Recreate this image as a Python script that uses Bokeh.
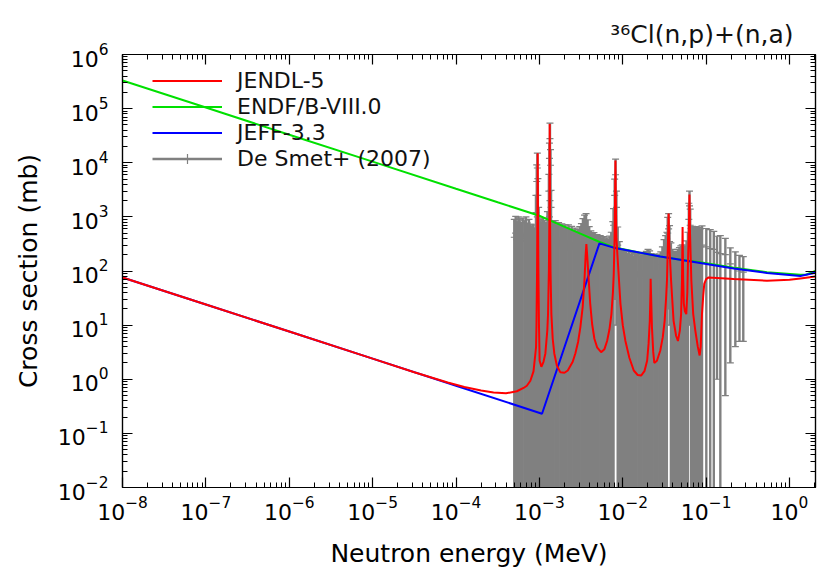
import numpy as np
from bokeh.plotting import figure
from bokeh.models import (LogAxis, FixedTicker, Legend, LegendItem,
                          ColumnDataSource, Range1d, CustomJSTickFormatter)
from bokeh.embed import file_html
from bokeh.resources import INLINE

# ---------------- evaluated cross sections (energy in MeV, sigma in mb) -------------
jendl_e = [1e-8, 1e-7, 1e-6, 1e-5, 3.16e-5, 7.94e-5, 1.26e-4, 2.0e-4, 2.82e-4, 3.98e-4,
           5.37e-4, 6.46e-4, 7.08e-4, 7.8e-4, 8.5e-4, 9.12e-4, 9.23e-4, 9.38e-4, 9.48e-4,
           9.55e-4, 9.62e-4, 9.73e-4, 9.89e-4, 1.007e-3, 1.057e-3, 1.12e-3, 1.18e-3,
           1.245e-3, 1.27e-3, 1.30e-3, 1.318e-3, 1.33e-3, 1.343e-3, 1.36e-3, 1.393e-3,
           1.445e-3, 1.51e-3, 1.62e-3, 1.786e-3, 2.0e-3, 2.19e-3, 2.51e-3, 2.70e-3,
           2.92e-3, 3.10e-3, 3.31e-3, 3.47e-3, 3.59e-3, 3.66e-3, 3.76e-3, 3.91e-3,
           4.07e-3, 4.29e-3, 4.57e-3, 4.92e-3, 5.5e-3, 6.03e-3, 6.49e-3, 6.92e-3,
           7.31e-3, 7.62e-3, 7.8e-3, 7.98e-3, 8.09e-3, 8.17e-3, 8.24e-3, 8.39e-3,
           8.79e-3, 9.12e-3, 9.38e-3, 1.0e-2, 1.076e-2, 1.2e-2, 1.355e-2, 1.51e-2,
           1.66e-2, 1.82e-2, 1.96e-2, 2.04e-2, 2.11e-2, 2.15e-2, 2.16e-2, 2.19e-2,
           2.24e-2, 2.32e-2, 2.39e-2, 2.57e-2, 2.82e-2, 3.02e-2, 3.18e-2, 3.31e-2,
           3.39e-2, 3.48e-2, 3.55e-2, 3.61e-2, 3.80e-2, 4.07e-2, 4.37e-2, 4.59e-2,
           4.84e-2, 5.01e-2, 5.13e-2, 5.22e-2, 5.30e-2, 5.40e-2, 5.56e-2, 5.78e-2,
           5.95e-2, 6.05e-2, 6.19e-2, 6.31e-2, 6.41e-2, 6.65e-2, 7.0e-2, 7.41e-2,
           7.94e-2, 8.36e-2, 8.61e-2, 8.91e-2, 9.23e-2, 9.5e-2, 0.1, 0.107, 0.214,
           0.537, 1.0, 1.35, 2.04]
jendl_xs = [76, 24, 7.6, 2.4, 1.35, 0.87, 0.72, 0.62, 0.57, 0.55,
            0.60, 0.69, 0.76, 0.94, 1.4, 3.9, 10, 100, 1600,
            15000, 1600, 100, 10, 2.2, 1.7, 2.1, 3.0,
            8, 16, 100, 1000, 52000, 1000, 100, 16,
            5.6, 3.0, 1.8, 1.34, 1.32, 1.45, 2.1, 3.0,
            5.0, 9.1, 22, 66, 200, 316, 178, 66,
            25, 10.5, 5.6, 3.9, 3.16, 3.6, 5.1, 8.3,
            16, 40, 89, 400, 2500, 11000, 2500, 400,
            126, 50, 25, 10, 5.1, 2.5, 1.45, 1.2,
            1.17, 1.41, 2.2, 4.5, 12, 40, 72, 32,
            9.1, 3.2, 2.0, 2.2, 3.4, 6, 12, 32,
            66, 316, 1150, 316, 66, 12, 6.3, 5.1,
            8, 16, 63, 650, 80, 25, 18, 16,
            40, 135, 500, 2600, 500, 66, 16, 8,
            4, 2.75, 4, 16, 35, 58, 71, 76, 71,
            66, 69, 73, 79]

endf_e = [1e-8, 1e-7, 1e-6, 1e-5, 1e-4, 3.16e-4, 1e-3, 1.355e-3, 3.1e-3, 5.37e-3,
          7.76e-3, 1.58e-2, 2.82e-2, 5.0e-2, 8.5e-2, 0.214, 0.537, 1.35, 1.6, 2.04]
endf_xs = [3.3e5, 1.05e5, 3.3e4, 1.05e4, 3300, 1860, 1050, 850, 490, 340,
           275, 219, 186, 162, 145, 115, 95, 85, 86, 100]

jeff_e = [1e-8, 1e-7, 1e-6, 1e-5, 1e-4, 1.076e-3, 5.25e-3, 7.76e-3, 2.82e-2, 8.5e-2,
          0.214, 0.537, 1.35, 2.04]
jeff_xs = [76, 24, 7.6, 2.4, 0.76, 0.231, 324, 270, 186, 141,
           111, 92, 81, 93]

# ---------------- De Smet+ (2007) measurement: energy (MeV), sigma (mb), error (mb) ----
desmet_e = [5.0e-4, 5.2e-4, 5.4e-4, 5.6e-4, 5.8e-4, 6.0e-4, 6.3e-4, 6.6e-4, 6.9e-4, 7.2e-4,
            7.5e-4, 7.8e-4, 8.1e-4, 8.4e-4, 8.7e-4,
            9.1e-4, 9.3e-4, 9.45e-4, 9.6e-4, 9.8e-4,
            1.01e-3, 1.05e-3, 1.10e-3, 1.15e-3, 1.20e-3, 1.25e-3,
            1.30e-3, 1.32e-3, 1.34e-3, 1.36e-3, 1.38e-3,
            1.42e-3, 1.48e-3, 1.55e-3, 1.62e-3, 1.70e-3, 1.78e-3, 1.86e-3, 1.95e-3,
            2.04e-3, 2.13e-3, 2.23e-3, 2.33e-3, 2.44e-3, 2.55e-3, 2.67e-3, 2.79e-3,
            2.92e-3, 3.05e-3, 3.19e-3, 3.33e-3, 3.48e-3, 3.63e-3, 3.79e-3,
            3.96e-3, 4.14e-3, 4.32e-3, 4.51e-3, 4.71e-3, 4.92e-3, 5.14e-3, 5.37e-3,
            5.61e-3, 5.86e-3, 6.12e-3, 6.39e-3, 6.67e-3, 6.97e-3, 7.28e-3, 7.6e-3,
            7.75e-3, 8.0e-3, 8.2e-3, 8.4e-3, 8.7e-3,
            9.1e-3, 9.5e-3, 9.9e-3, 10.3e-3, 10.8e-3, 11.3e-3, 11.8e-3, 12.3e-3,
            12.9e-3, 13.5e-3, 14.1e-3, 14.7e-3, 15.4e-3, 16.1e-3, 16.8e-3, 17.6e-3,
            18.4e-3, 19.2e-3, 20.1e-3, 21.0e-3, 21.9e-3, 22.9e-3, 24.0e-3, 25.1e-3,
            26.2e-3, 27.4e-3, 28.6e-3, 29.9e-3, 31.3e-3, 32.7e-3, 33.8e-3,
            34.6e-3, 35.5e-3, 36.4e-3,
            37.8e-3, 39.3e-3, 40.9e-3, 42.5e-3, 44.2e-3, 46.0e-3, 47.8e-3, 49.7e-3,
            51.7e-3, 53.8e-3, 56.0e-3, 58.2e-3,
            60.5e-3, 62.0e-3, 63.2e-3, 64.4e-3, 66.0e-3,
            68.5e-3, 71.0e-3, 73.5e-3, 76.0e-3, 78.5e-3, 81.5e-3, 85.0e-3,
            0.0893, 0.1005, 0.112, 0.1236, 0.135, 0.148, 0.170, 0.195, 0.224,
            0.251, 0.279]
desmet_xs = [420, 500, 380, 470, 430, 360, 450, 400, 480, 350,
             420, 330, 300, 340, 280,
             1200, 4500, 8000, 2500, 700,
             420, 380, 450, 400, 350, 600,
             3000, 12000, 28000, 9000, 1500,
             380, 350, 400, 330, 360, 300, 340, 290,
             320, 280, 330, 260, 300, 250, 280, 240,
             260, 300, 350, 450, 520, 560, 420,
             300, 250, 220, 230, 200, 210, 190, 200,
             180, 190, 170, 180, 170, 200, 240, 400,
             700, 2500, 6000, 1500, 300,
             150, 110, 100, 95, 105, 90, 100, 85,
             95, 80, 90, 85, 95, 80, 90, 85,
             95, 100, 110, 100, 90, 85, 90, 80,
             85, 90, 100, 130, 180, 220, 250,
             500, 600, 350,
             150, 110, 100, 95, 100, 110, 120, 130,
             140, 120, 130, 170,
             250, 900, 1600, 700, 300,
             320, 300, 280, 310, 290, 300, 280,
             300, 280, 260, 250, 220, 210, 200, 135, 115,
             100, 95]
desmet_err = [480, 520, 450, 530, 490, 420, 500, 470, 520, 420,
              480, 400, 380, 390, 350,
              1300, 4600, 7000, 2600, 800,
              480, 450, 500, 460, 430, 650,
              3100, 11000, 26000, 8500, 1600,
              440, 420, 450, 400, 420, 380, 400, 360,
              390, 350, 380, 330, 370, 320, 340, 300,
              320, 360, 400, 480, 560, 590, 460,
              360, 300, 270, 280, 250, 260, 240, 250,
              230, 240, 220, 230, 210, 240, 280, 420,
              720, 2470, 5700, 1490, 350,
              200, 140, 130, 125, 135, 120, 130, 115,
              125, 110, 120, 115, 120, 110, 115, 110,
              125, 130, 140, 135, 120, 110, 115, 105,
              110, 115, 125, 150, 200, 230, 270,
              480, 550, 340,
              180, 140, 130, 125, 130, 140, 150, 160,
              165, 150, 160, 190,
              270, 885, 1400, 690, 310,
              350, 340, 330, 350, 330, 340, 320,
              380, 330, 320, 290, 219, 240, 199.5, 133, 111,
              95, 90]

# ---------------- axis ticks ----------------
x_major = [1e-8, 1e-7, 1e-6, 1e-5, 1e-4, 1e-3, 1e-2, 1e-1, 1e0]
y_major = [1e-2, 1e-1, 1e0, 1e1, 1e2, 1e3, 1e4, 1e5, 1e6]
x_minor = [m * t for t in x_major for m in range(2, 10)]
y_minor = [m * t for t in y_major[:-1] for m in range(2, 10)]

FONT = "DejaVu Sans"
GRAY = "#808080"

p = figure(width=825, height=577, x_axis_type="log", y_axis_type="log",
           x_range=Range1d(1e-8, 2.05), y_range=Range1d(1e-2, 1e6),
           output_backend="svg", toolbar_location=None,
           min_border_left=122, min_border_right=10,
           min_border_top=54, min_border_bottom=90)
p.xgrid.visible = False
p.ygrid.visible = False
p.outline_line_color = "black"
p.outline_line_width = 1.2
p.background_fill_color = "white"
p.border_fill_color = "white"

# reaction name, right-aligned over the frame
p.title.text = "\u00b3\u2076Cl(n,p)+(n,a)"
p.title.align = "right"
p.title.offset = 22
p.title.standoff = 12
p.title.text_font = FONT
p.title.text_font_size = "25px"
p.title.text_font_style = "normal"
p.title.text_color = "#111111"


def style_axis(ax, ticks, minor, labels=True):
    ax.ticker = FixedTicker(ticks=ticks, minor_ticks=minor)
    ax.major_tick_in = 10
    ax.major_tick_out = 0
    ax.minor_tick_in = 5
    ax.minor_tick_out = 0
    ax.axis_line_color = "black"
    ax.axis_line_width = 1.2
    ax.major_tick_line_color = "black"
    ax.minor_tick_line_color = "black"
    ax.major_tick_line_width = 1.2
    ax.minor_tick_line_width = 1
    ax.major_label_text_font = FONT
    ax.major_label_text_color = "black"
    ax.major_label_text_font_size = "22px"
    if not labels:
        # mirrored axis: ticks only
        ax.formatter = CustomJSTickFormatter(code="return ''")
        ax.major_label_standoff = 0


style_axis(p.xaxis[0], x_major, x_minor)
style_axis(p.yaxis[0], y_major, y_minor)
p.xaxis[0].major_label_standoff = 8
p.yaxis[0].major_label_standoff = 14
p.xaxis.axis_label = "Neutron energy (MeV)"
p.yaxis.axis_label = "Cross section (mb)"
for ax in (p.xaxis[0], p.yaxis[0]):
    ax.axis_label_text_font = FONT
    ax.axis_label_text_font_size = "25px"
    ax.axis_label_text_font_style = "normal"
    ax.axis_label_text_color = "black"
p.xaxis[0].axis_label_standoff = 16
p.yaxis[0].axis_label_standoff = 12

top_ax = LogAxis()
style_axis(top_ax, x_major, x_minor, labels=False)
p.add_layout(top_ax, "above")
right_ax = LogAxis()
style_axis(right_ax, y_major, y_minor, labels=False)
p.add_layout(right_ax, "right")

# ---------------- measurement with error bars ----------------
e = np.array(desmet_e)
xs = np.array(desmet_xs, dtype=float)
err = np.array(desmet_err, dtype=float)
hi = xs + err
lo = xs - err
lo = np.where(lo > 0, lo, 1e-4)   # bars crossing zero run off the bottom of the log axis
src = ColumnDataSource(dict(e=e, xs=xs, lo=lo, hi=hi))

bars = p.segment(x0="e", y0="lo", x1="e", y1="hi", source=src,
                 line_color=GRAY, line_width=2.4)
p.scatter(x="e", y="hi", source=src, marker="dash", size=7,
          line_color=GRAY, line_width=1.2)
p.scatter(x="e", y="lo", source=src, marker="dash", size=7,
          line_color=GRAY, line_width=1.2)
pts = p.scatter(x="e", y="xs", source=src, marker="cross", size=7,
                line_color=GRAY, line_width=1.2)

# ---------------- evaluations ----------------
r_endf = p.line(endf_e, endf_xs, line_color="#00e000", line_width=2)
r_jeff = p.line(jeff_e, jeff_xs, line_color="#0000ff", line_width=2)
r_jendl = p.line(jendl_e, jendl_xs, line_color="#ff0000", line_width=2)

legend = Legend(items=[
    LegendItem(label="JENDL-5", renderers=[r_jendl]),
    LegendItem(label="ENDF/B-VIII.0", renderers=[r_endf]),
    LegendItem(label="JEFF-3.3", renderers=[r_jeff]),
    LegendItem(label="De Smet+ (2007)", renderers=[bars, pts]),
], location=(30, 316))
legend.background_fill_alpha = 0
legend.border_line_alpha = 0
legend.label_text_font = FONT
legend.label_text_font_size = "22px"
legend.label_text_color = "#111111"
legend.glyph_width = 70
legend.glyph_height = 25
legend.label_height = 25
legend.label_standoff = 15
legend.spacing = 1
legend.padding = 0
legend.margin = 0
p.add_layout(legend)

open("out.html", "w").write(file_html(p, INLINE))
